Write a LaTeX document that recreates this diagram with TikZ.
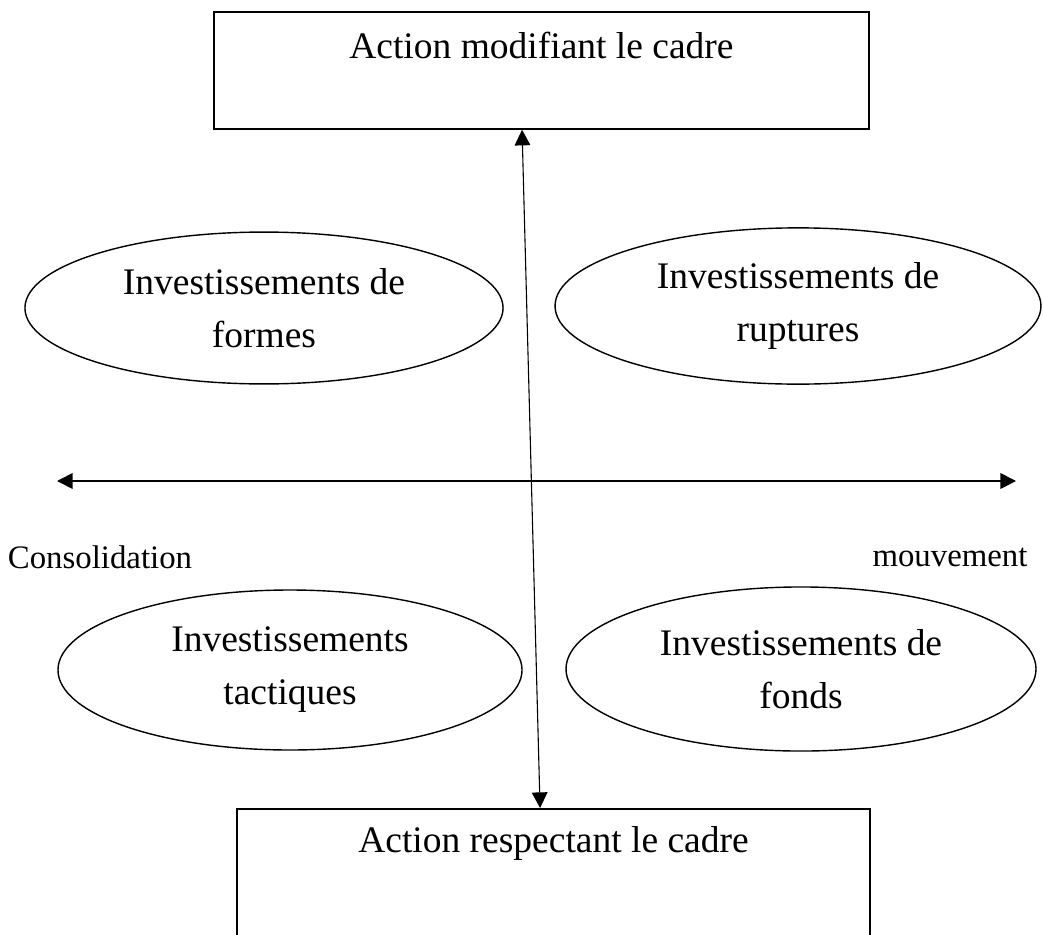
\documentclass[tikz,border=0pt]{standalone}
\usepackage{fontspec}
\setmainfont{Liberation Serif}
\usetikzlibrary{arrows.meta,shapes.geometric}

\tikzset{
  cadre/.style={draw, line width=0.6pt, anchor=north west, inner sep=0pt},
  invest/.style={draw, ellipse, line width=0.45pt, inner sep=0pt, align=center},
  fleche/.style={{Triangle[length=5pt,width=5pt]}-{Triangle[length=5pt,width=5pt]}},
  petit/.style={font=\fontsize{10.5}{12}\selectfont}
}

\begin{document}
\begin{tikzpicture}[x=0.32pt, y=-0.32pt, font=\fontsize{12}{17}\selectfont]

\useasboundingbox (0,0) rectangle (1043,934);
\clip (0,0) rectangle (1043,934);

% the two frames
\node[cadre, minimum width=209.6pt, minimum height=37.4pt, label={[anchor=center, yshift=-10.9pt]north:Action modifiant le cadre}] (modif) at (213,11) {};
\node[cadre, minimum width=202.6pt, minimum height=52pt, label={[anchor=center, yshift=-11.2pt]north:Action respectant le cadre}] (respect) at (236,808) {};

% the four kinds of investment
\node[invest, minimum width=153pt, minimum height=48.6pt] (formes) at (264,308) {Investissements de\\formes};
\node[invest, minimum width=155.5pt, minimum height=50pt] (ruptures) at (798,306) {Investissements de\\ruptures};
\node[invest, minimum width=148.5pt, minimum height=51.2pt] (tactiques) at (290,670) {Investissements\\tactiques};
\node[invest, minimum width=150.4pt, minimum height=52.5pt] (fonds) at (801,669) {Investissements de\\fonds};

% the two axes
\coordinate (gauche) at (57,481);
\coordinate (droite) at (1016,481);
\draw[fleche, line width=0.55pt] (gauche) -- (droite);
\draw[fleche, line width=0.35pt] ([xshift=-6.2pt]modif.south) -- ([xshift=-4.3pt]respect.north);

\node[petit] (conso) at (100,557) {Consolidation};
\node[petit] (mouv) at (950,557) {mouvement};

\end{tikzpicture}
\end{document}
